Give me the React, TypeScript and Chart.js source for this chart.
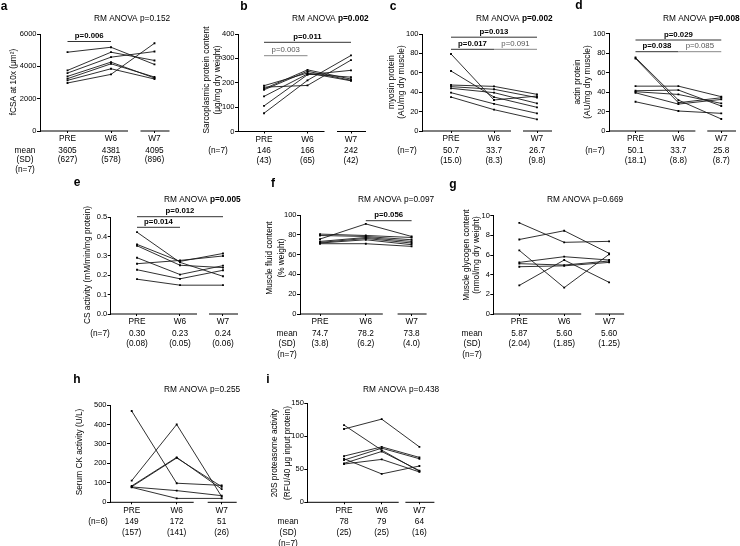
import React, { useEffect, useRef } from "react";
import { Chart, registerables } from "chart.js";

Chart.register(...registerables);

const W = 740;
const H = 546;
const FONT = "'Liberation Sans', Arial, Helvetica, sans-serif";
const categories = ["PRE", "W6", "W7"];

// ---- data: one row per subject, values at [PRE, W6, W7] ----
const fcsaSubjects: number[][] = [
  [4874, 5180, 4117],
  [3748, 4874, 4362],
  [3584, 4567, 4915],
  [3379, 4260, 3277],
  [3236, 4157, 3338],
  [3133, 3850, 3215],
  [2970, 3502, 5427],
];
const sarcoSubjects: number[][] = [
  [188, 240, 208],
  [182, 189, 293],
  [175, 253, 215],
  [171, 247, 210],
  [144, 236, 223],
  [105, 233, 251],
  [75, 210, 312],
];
const myosinSubjects: number[][] = [
  [79.4, 32, 36],
  [61.9, 35, 24.4],
  [47.4, 46, 37.8],
  [45.7, 43, 34.4],
  [44, 39.5, 28.5],
  [39.5, 28, 18.2],
  [35, 22, 12],
];
const actinSubjects: number[][] = [
  [75.4, 31.7, 12.3],
  [74.4, 29, 34.1],
  [46, 46, 35.2],
  [41.3, 42, 25.6],
  [40.3, 37.5, 28.3],
  [39.2, 27.6, 32.4],
  [30, 20.5, 18.1],
];
const csSubjects: number[][] = [
  [0.423, 0.267, 0.195],
  [0.36, 0.272, 0.313],
  [0.353, 0.252, 0.24],
  [0.291, 0.204, 0.25],
  [0.26, 0.277, 0.3],
  [0.229, 0.182, 0.226],
  [0.18, 0.149, 0.149],
];
const fluidSubjects: number[][] = [
  [80.7, 79.3, 77.3],
  [79.3, 78.3, 75],
  [75.7, 91, 78.3],
  [73.3, 77.3, 73.3],
  [72.3, 76.3, 71.7],
  [71.7, 75, 70],
  [71, 71, 68.3],
];
const glycogenSubjects: number[][] = [
  [9.27, 7.29, 7.39],
  [7.58, 8.47, 6.17],
  [6.47, 2.68, 6.07],
  [5.25, 5.83, 5.49],
  [5.12, 4.98, 5.39],
  [4.81, 4.9, 5.25],
  [2.91, 5.49, 3.22],
];
const ckSubjects: number[][] = [
  [469, 98, 87],
  [111, 400, 29],
  [84, 231, 68],
  [80, 228, 80],
  [79, 60, 34],
  [77, 20, 20],
];
const proteasomeSubjects: number[][] = [
  [117, 79, 47],
  [111, 126, 84],
  [70, 84, 68],
  [66, 43, 55],
  [64, 82, 66],
  [59, 77, 48],
  [58, 65, 46],
];

// ---- summary texts ----
const fcsaMeans = ["3605", "4381", "4095"];
const fcsaSDs = ["(627)", "(578)", "(896)"];
const sarcoMeans = ["146", "166", "242"];
const sarcoSDs = ["(43)", "(65)", "(42)"];
const myosinMeans = ["50.7", "33.7", "26.7"];
const myosinSDs = ["(15.0)", "(8.3)", "(9.8)"];
const actinMeans = ["50.1", "33.7", "25.8"];
const actinSDs = ["(18.1)", "(8.8)", "(8.7)"];
const csMeans = ["0.30", "0.23", "0.24"];
const csSDs = ["(0.08)", "(0.05)", "(0.06)"];
const fluidMeans = ["74.7", "78.2", "73.8"];
const fluidSDs = ["(3.8)", "(6.2)", "(4.0)"];
const glycogenMeans = ["5.87", "5.60", "5.60"];
const glycogenSDs = ["(2.04)", "(1.85)", "(1.25)"];
const ckMeans = ["149", "172", "51"];
const ckSDs = ["(157)", "(141)", "(26)"];
const proteasomeMeans = ["78", "79", "64"];
const proteasomeSDs = ["(25)", "(25)", "(16)"];

type Bracket = { from: number; to: number; y: number; text: string; bold: boolean };
interface Panel {
  letter: string;
  letterX: number;
  letterY: number;
  left: number;
  top: number;
  bottom: number;
  pre: number;
  step: number;
  yMax: number;
  yStep: number;
  yDecimals: number;
  subjects: number[][];
  titleX: number;
  titleY: number;
  titleP: string;
  titleBold: boolean;
  brackets: Bracket[];
  yTitle: string[];
  yTitleX: number[];
  yTitleY: number;
  statLabels: string[];
  statLabelX: number;
  statRows: number[];
  means: string[];
  sds: string[];
}

const meanLabels = ["mean", "(SD)", "(n=7)"];

const panels: Panel[] = [
  {
    letter: "a", letterX: 4, letterY: 7,
    left: 40, top: 34, bottom: 131, pre: 67.5, step: 43.5,
    yMax: 6000, yStep: 2000, yDecimals: 0, subjects: fcsaSubjects,
    titleX: 94, titleY: 19, titleP: "p=0.152", titleBold: false,
    brackets: [{ from: 0, to: 1, y: 41.5, text: "p=0.006", bold: true }],
    yTitle: ["fCSA at 10x (\u03bcm\u00b2)"], yTitleX: [14], yTitleY: 82,
    statLabels: meanLabels, statLabelX: 25, statRows: [150.5, 160, 169.5],
    means: fcsaMeans, sds: fcsaSDs,
  },
  {
    letter: "b", letterX: 244, letterY: 7,
    left: 238, top: 34, bottom: 131.5, pre: 264, step: 43.5,
    yMax: 400, yStep: 100, yDecimals: 0, subjects: sarcoSubjects,
    titleX: 292, titleY: 19, titleP: "p=0.002", titleBold: true,
    brackets: [
      { from: 0, to: 2, y: 42.3, text: "p=0.011", bold: true },
      { from: 0, to: 1, y: 55.7, text: "p=0.003", bold: false },
    ],
    yTitle: ["Sarcoplasmic protein content", "(\u03bcg/mg dry weight)"], yTitleX: [207, 218], yTitleY: 80,
    statLabels: ["(n=7)"], statLabelX: 218, statRows: [150.5, 160.5],
    means: sarcoMeans, sds: sarcoSDs,
  },
  {
    letter: "c", letterX: 393, letterY: 7,
    left: 422, top: 34, bottom: 131, pre: 451, step: 43,
    yMax: 100, yStep: 20, yDecimals: 0, subjects: myosinSubjects,
    titleX: 476, titleY: 19, titleP: "p=0.002", titleBold: true,
    brackets: [
      { from: 0, to: 2, y: 37.2, text: "p=0.013", bold: true },
      { from: 0, to: 1, y: 49.3, text: "p=0.017", bold: true },
      { from: 1, to: 2, y: 49.3, text: "p=0.091", bold: false },
    ],
    yTitle: ["myosin protein", "(AU/mg dry muscle)"], yTitleX: [392, 402], yTitleY: 82,
    statLabels: ["(n=7)"], statLabelX: 407, statRows: [150.5, 160.5],
    means: myosinMeans, sds: myosinSDs,
  },
  {
    letter: "d", letterX: 579, letterY: 6,
    left: 609, top: 33.5, bottom: 131, pre: 636, step: 43.7,
    yMax: 100, yStep: 20, yDecimals: 0, subjects: actinSubjects,
    titleX: 663, titleY: 19, titleP: "p=0.008", titleBold: true,
    brackets: [
      { from: 0, to: 2, y: 40, text: "p=0.029", bold: true },
      { from: 0, to: 1, y: 51.7, text: "p=0.038", bold: true },
      { from: 1, to: 2, y: 51.7, text: "p=0.085", bold: false },
    ],
    yTitle: ["actin protein", "(AU/mg dry muscle)"], yTitleX: [578, 588], yTitleY: 82,
    statLabels: ["(n=7)"], statLabelX: 595, statRows: [150.5, 160.5],
    means: actinMeans, sds: actinSDs,
  },
  {
    letter: "e", letterX: 77, letterY: 183,
    left: 110.7, top: 217.3, bottom: 314, pre: 137, step: 43,
    yMax: 0.5, yStep: 0.1, yDecimals: 1, subjects: csSubjects,
    titleX: 164, titleY: 199.3, titleP: "p=0.005", titleBold: true,
    brackets: [
      { from: 0, to: 2, y: 216.7, text: "p=0.012", bold: true },
      { from: 0, to: 1, y: 227.3, text: "p=0.014", bold: true },
    ],
    yTitle: ["CS activity (mM/min/mg protein)"], yTitleX: [88], yTitleY: 265,
    statLabels: ["(n=7)"], statLabelX: 100, statRows: [333.3, 344],
    means: csMeans, sds: csSDs,
  },
  {
    letter: "f", letterX: 273, letterY: 184,
    left: 300, top: 215, bottom: 314, pre: 320, step: 45.8,
    yMax: 100, yStep: 20, yDecimals: 0, subjects: fluidSubjects,
    titleX: 358, titleY: 199.3, titleP: "p=0.097", titleBold: false,
    brackets: [{ from: 1, to: 2, y: 220.7, text: "p=0.056", bold: true }],
    yTitle: ["Muscle fluid content", "(% weight)"], yTitleX: [270, 282], yTitleY: 258,
    statLabels: meanLabels, statLabelX: 287, statRows: [333.3, 344, 354.5],
    means: fluidMeans, sds: fluidSDs,
  },
  {
    letter: "g", letterX: 453, letterY: 185,
    left: 493.3, top: 215.7, bottom: 314, pre: 519.3, step: 44.9,
    yMax: 10, yStep: 2, yDecimals: 0, subjects: glycogenSubjects,
    titleX: 547, titleY: 199.3, titleP: "p=0.669", titleBold: false,
    brackets: [],
    yTitle: ["Muscle glycogen content", "(nmol/mg dry weight)"], yTitleX: [467, 477], yTitleY: 255,
    statLabels: meanLabels, statLabelX: 472, statRows: [333.3, 344, 354.5],
    means: glycogenMeans, sds: glycogenSDs,
  },
  {
    letter: "h", letterX: 77, letterY: 380,
    left: 110, top: 405, bottom: 502.3, pre: 131.7, step: 45,
    yMax: 500, yStep: 100, yDecimals: 0, subjects: ckSubjects,
    titleX: 164, titleY: 389.3, titleP: "p=0.255", titleBold: false,
    brackets: [],
    yTitle: ["Serum CK activity (U/L)"], yTitleX: [80], yTitleY: 452,
    statLabels: ["(n=6)"], statLabelX: 98, statRows: [521.7, 532.7],
    means: ckMeans, sds: ckSDs,
  },
  {
    letter: "i", letterX: 268, letterY: 380,
    left: 307.3, top: 403.3, bottom: 502.3, pre: 344, step: 37.7,
    yMax: 150, yStep: 50, yDecimals: 0, subjects: proteasomeSubjects,
    titleX: 363, titleY: 389.3, titleP: "p=0.438", titleBold: false,
    brackets: [],
    yTitle: ["20S proteasome activity", "(RFU/40 \u03bcg input protein)"], yTitleX: [275, 288], yTitleY: 453,
    statLabels: meanLabels, statLabelX: 288, statRows: [521.7, 532.7, 543.5],
    means: proteasomeMeans, sds: proteasomeSDs,
  },
];

const TXT = 8.3;
const YW = 30;
const XH = 16;

function font(size: number, bold = false) {
  return `${bold ? "bold " : ""}${size}px ${FONT}`;
}

function makePlugin(p: Panel) {
  return {
    id: "annot_" + p.letter,
    afterDraw(chart: any) {
      const ctx: CanvasRenderingContext2D = chart.ctx;
      const xs = chart.scales.x;
      const ca = chart.chartArea;
      ctx.save();
      // broken x axis
      ctx.strokeStyle = "#000";
      ctx.lineWidth = 1;
      const yb = ca.bottom;
      const xW6 = xs.getPixelForValue(1);
      const xW7 = xs.getPixelForValue(2);
      ctx.beginPath();
      ctx.moveTo(ca.left, yb);
      ctx.lineTo(xW6 + 17, yb);
      ctx.moveTo(xW7 - 14, yb);
      ctx.lineTo(ca.right, yb);
      ctx.stroke();

      ctx.fillStyle = "#000";
      // panel letter
      ctx.font = font(12, true);
      ctx.textAlign = "center";
      ctx.textBaseline = "middle";
      ctx.fillText(p.letter, p.letterX, p.letterY);

      // title
      ctx.textAlign = "left";
      ctx.font = font(TXT);
      const t1 = "RM ANOVA ";
      ctx.fillText(t1, p.titleX, p.titleY);
      const w1 = ctx.measureText(t1).width;
      ctx.font = font(TXT, p.titleBold);
      ctx.fillText(p.titleP, p.titleX + w1, p.titleY);

      // brackets
      for (const b of p.brackets) {
        const x1 = xs.getPixelForValue(b.from);
        const x2 = xs.getPixelForValue(b.to);
        ctx.strokeStyle = b.bold ? "#333" : "#888";
        ctx.lineWidth = 1;
        ctx.beginPath();
        ctx.moveTo(x1, b.y);
        ctx.lineTo(x2, b.y);
        ctx.stroke();
        ctx.fillStyle = b.bold ? "#000" : "#555";
        ctx.font = font(TXT - 0.5, b.bold);
        ctx.textAlign = "center";
        ctx.fillText(b.text, (x1 + x2) / 2, b.y - 5.5);
      }

      // y axis title
      ctx.fillStyle = "#000";
      ctx.font = font(TXT);
      ctx.textAlign = "center";
      p.yTitle.forEach((line, i) => {
        ctx.save();
        ctx.translate(p.yTitleX[i], p.yTitleY);
        ctx.rotate(-Math.PI / 2);
        ctx.fillText(line, 0, 0);
        ctx.restore();
      });

      // stats rows
      ctx.font = font(TXT);
      ctx.textAlign = "center";
      p.statLabels.forEach((s, i) => ctx.fillText(s, p.statLabelX, p.statRows[i]));
      for (let i = 0; i < 3; i++) {
        const x = xs.getPixelForValue(i);
        ctx.fillText(p.means[i], x, p.statRows[0]);
        ctx.fillText(p.sds[i], x, p.statRows[1]);
      }
      ctx.restore();
    },
  };
}

function PanelChart({ p }: { p: Panel }) {
  const ref = useRef<HTMLCanvasElement | null>(null);
  useEffect(() => {
    if (!ref.current) return;
    const w7 = p.pre + 2 * p.step;
    const right = w7 + 15;
    const xMin = -(p.pre - p.left) / p.step;
    const xMax = (right - p.pre) / p.step;
    const chart = new Chart(ref.current, {
      type: "line",
      data: {
        datasets: p.subjects.map((s) => ({
          data: s.map((v, i) => ({ x: i, y: v })),
          borderColor: "#1a1a1a",
          borderWidth: 0.9,
          pointStyle: "rect",
          pointRadius: 1.3,
          pointBackgroundColor: "#000",
          pointBorderColor: "#000",
          pointBorderWidth: 0,
          fill: false,
          tension: 0,
        })),
      },
      options: {
        animation: false,
        responsive: false,
        devicePixelRatio: 1,
        events: [],
        layout: {
          padding: {
            left: p.left - YW,
            top: p.top,
            right: W - right,
            bottom: H - p.bottom - XH,
          },
        },
        plugins: {
          legend: { display: false },
          tooltip: { enabled: false },
          title: { display: false },
        },
        scales: {
          x: {
            type: "linear",
            min: xMin,
            max: xMax,
            afterBuildTicks: (scale: any) => {
              scale.ticks = [0, 1, 2].map((v) => ({ value: v }));
            },
            afterFit: (scale: any) => {
              scale.height = XH;
            },
            ticks: {
              callback: (v: any) => categories[Math.round(Number(v))],
              font: { family: FONT, size: TXT },
              color: "#000",
              padding: 1,
              maxRotation: 0,
              autoSkip: false,
            },
            grid: { display: true, drawOnChartArea: false, drawTicks: true, tickLength: 2, color: "#000" },
            border: { display: false },
          },
          y: {
            min: 0,
            max: p.yMax,
            afterFit: (scale: any) => {
              scale.width = YW;
            },
            ticks: {
              stepSize: p.yStep,
              callback: (v: any) => Number(v).toFixed(p.yDecimals),
              font: { family: FONT, size: 7.5 },
              color: "#000",
              padding: 0.5,
            },
            grid: { display: true, drawOnChartArea: false, drawTicks: true, tickLength: 3, color: "#000" },
            border: { display: true, color: "#000", width: 1 },
          },
        },
      } as any,
      plugins: [makePlugin(p)],
    });
    return () => chart.destroy();
  }, [p]);
  return (
    <canvas
      ref={ref}
      width={W}
      height={H}
      style={{ position: "absolute", left: 0, top: 0, width: W, height: H }}
    />
  );
}

export default function App() {
  return (
    <div style={{ position: "fixed", left: 0, top: 0, width: W, height: H, background: "#fff" }}>
      {panels.map((p) => (
        <PanelChart key={p.letter} p={p} />
      ))}
    </div>
  );
}
